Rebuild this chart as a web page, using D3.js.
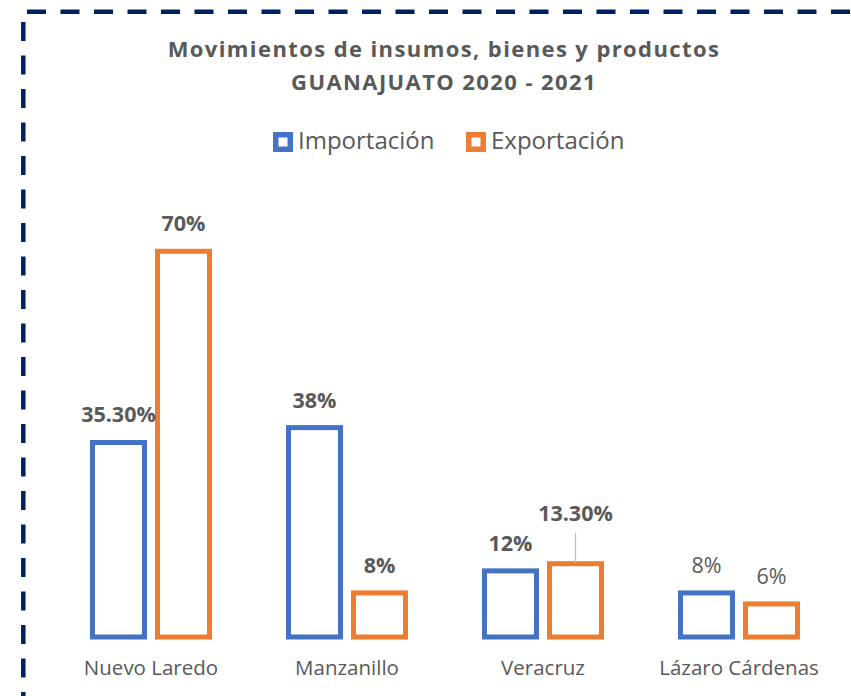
<!DOCTYPE html>
<html>
<head>
<meta charset="utf-8">
<script src="https://cdn.jsdelivr.net/npm/d3@7"></script>
<style>
  body { margin: 0; background: #fff; }
  svg { display: block; font-family: "Open Sans", sans-serif; }
</style>
</head>
<body>
<svg id="chart" width="851" height="696"></svg>
<script>
// Datos del gráfico
const titleLines = ['Movimientos de insumos, bienes y productos', 'GUANAJUATO 2020 - 2021'];
const categories = ['Nuevo Laredo', 'Manzanillo', 'Veracruz', 'Lázaro Cárdenas'];
const seriesNames = ['Importación', 'Exportación'];
const importacion = [35.3, 38, 12, 8];
const exportacion = [70, 8, 13.3, 6];
const importLabels = ['35.30%', '38%', '12%', '8%'];
const exportLabels = ['70%', '8%', '13.30%', '6%'];
const boldLabels = [true, true, true, false];

const colors = ['#4472C4', '#ED7D31'];
const textColor = '#595959';
const sw = 5;

const svg = d3.select('#chart');
const width = 851, height = 696;

// Borde punteado (solo arriba e izquierda visibles)
svg.append('line')
  .attr('x1', 27).attr('x2', width).attr('y1', 11.7).attr('y2', 11.7)
  .attr('stroke', '#002060').attr('stroke-width', 4.5)
  .attr('stroke-dasharray', '19,14.5');
svg.append('line')
  .attr('x1', 23.3).attr('x2', 23.3).attr('y1', 22).attr('y2', height)
  .attr('stroke', '#002060').attr('stroke-width', 4.5)
  .attr('stroke-dasharray', '19,14.5');

// Título
svg.selectAll('text.title')
  .data(titleLines)
  .join('text')
    .attr('class', 'title')
    .attr('x', 444)
    .attr('y', (d, i) => 57 + i * 33)
    .attr('text-anchor', 'middle')
    .attr('font-size', '22px')
    .attr('font-weight', 'bold')
    .attr('letter-spacing', '1.4px')
    .attr('fill', textColor)
    .text(d => d);

// Leyenda
const legendX = [273, 466];
const legend = svg.selectAll('g.legend')
  .data(seriesNames)
  .join('g')
    .attr('class', 'legend')
    .attr('transform', (d, i) => `translate(${legendX[i]},132)`);
legend.append('rect')
  .attr('x', 2.75).attr('y', 2.75)
  .attr('width', 14.5).attr('height', 14.5)
  .attr('fill', '#fff')
  .attr('stroke', (d, i) => colors[i])
  .attr('stroke-width', 5.5);
legend.append('text')
  .attr('x', 25)
  .attr('y', 17)
  .attr('font-size', '24px')
  .attr('fill', textColor)
  .text(d => d);

// Escalas
const x0 = d3.scaleBand().domain(categories).range([53, 837]).padding(0);
const x1 = d3.scaleBand().domain(seriesNames).range([37, 159]).paddingInner(8 / 65).paddingOuter(0);
const y = d3.scaleLinear().domain([0, 80]).range([637, 637 - 80 * 5.51]);

const rows = categories.map((c, i) => ({
  cat: c,
  bold: boldLabels[i],
  vals: [
    { key: seriesNames[0], v: importacion[i], label: importLabels[i], ci: 0 },
    { key: seriesNames[1], v: exportacion[i], label: exportLabels[i], ci: 1 }
  ]
}));

const groups = svg.selectAll('g.group')
  .data(rows)
  .join('g')
    .attr('class', 'group')
    .attr('transform', d => `translate(${x0(d.cat)},0)`);

groups.selectAll('rect')
  .data(d => d.vals)
  .join('rect')
    .attr('x', d => x1(d.key) + sw / 2)
    .attr('width', x1.bandwidth() - sw)
    .attr('y', d => y(d.v))
    .attr('height', d => y(0) - y(d.v))
    .attr('fill', '#fff')
    .attr('stroke', d => colors[d.ci])
    .attr('stroke-width', sw);

// Etiquetas de datos (13.30% lleva línea guía)
groups.each(function (row) {
  const g = d3.select(this);
  row.vals.forEach(d => {
    const cx = x1(d.key) + x1.bandwidth() / 2;
    const leader = d.label === '13.30%';
    if (leader) {
      g.append('line')
        .attr('x1', cx).attr('x2', cx)
        .attr('y1', y(d.v) - 31).attr('y2', y(d.v) - 1)
        .attr('stroke', '#BFBFBF').attr('stroke-width', 1.2);
    }
    g.append('text')
      .attr('x', cx)
      .attr('y', y(d.v) - (leader ? 43 : 20))
      .attr('text-anchor', 'middle')
      .attr('font-size', '21.5px')
      .attr('font-weight', row.bold ? 'bold' : 'normal')
      .attr('fill', textColor)
      .text(d.label);
  });
});

// Eje X (solo etiquetas)
const xAxis = svg.append('g')
  .attr('transform', `translate(0,${y(0)})`)
  .call(d3.axisBottom(x0).tickSize(0).tickPadding(0));
xAxis.select('.domain').remove();
xAxis.selectAll('text')
  .attr('dy', null)
  .attr('y', 38)
  .attr('font-size', '20.5px')
  .attr('font-family', '"Open Sans", sans-serif')
  .attr('fill', textColor);
</script>
</body>
</html>
